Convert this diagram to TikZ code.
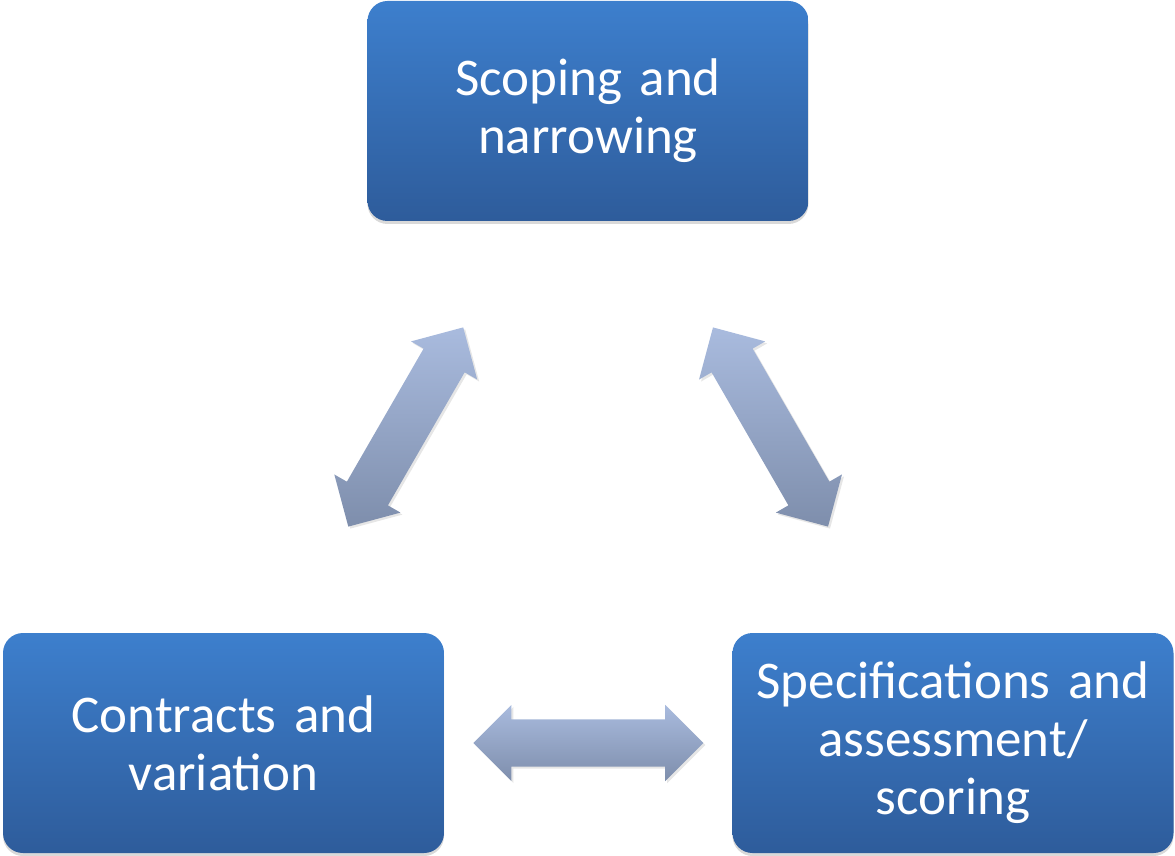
\documentclass[tikz,border=0pt]{standalone}
\usepackage{fontspec}
\setmainfont{Carlito}
\usetikzlibrary{shapes.arrows, shadows, positioning}
\definecolor{boxtop}{HTML}{3D7FCD}
\definecolor{boxbottom}{HTML}{2E5C9B}
\definecolor{arrowtop}{HTML}{A9BBDE}
\definecolor{arrowbottom}{HTML}{7E8EAC}
\tikzset{
	stage/.style={rectangle, rounded corners=20pt, minimum width=441pt, minimum height=220pt, text width=420pt, align=center, text=white, top color=boxtop, bottom color=boxbottom, font=\fontsize{53}{58}\selectfont, drop shadow={opacity=0.3, shadow xshift=0pt, shadow yshift=-3pt}},
	link/.style={double arrow, double arrow head extend=14.5pt, minimum height=230pt, inner sep=23.5pt, top color=arrowtop, bottom color=arrowbottom, sloped, drop shadow={opacity=0.2, shadow xshift=2pt, shadow yshift=-2pt}}
}
\begin{document}
\begin{tikzpicture}[x=1pt, y=1pt]
	\useasboundingbox (0, 0) rectangle (1175, 855);
	% Boxes
	\node [stage] (box-scope) at (588, 744) {Scoping and\\narrowing};
	\node [stage] (box-contract) at (223.5, 112) {Contracts and\\variation};
	\node [stage] (box-spec) at (953, 112) {Specifications and\\assessment/\\scoring};
	% Arrows between the boxes
	\path (box-contract.center) -- node [link] (arrow-left) {} (box-scope.center);
	\path (box-scope.center) -- node [link] (arrow-right) {} (box-spec.center);
	\path (box-contract.center) -- node [link] (arrow-bottom) {} (box-spec.center);
\end{tikzpicture}
\end{document}
